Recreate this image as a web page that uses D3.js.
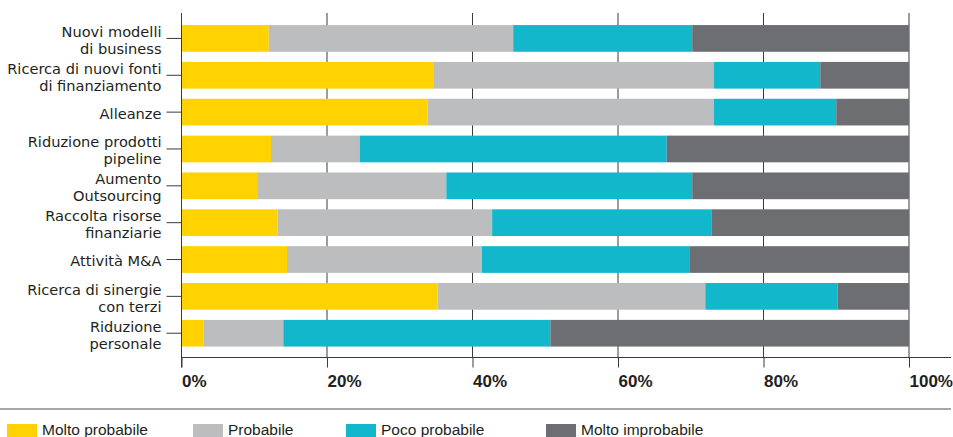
<!DOCTYPE html>
<html>
<head>
<meta charset="utf-8">
<script src="https://cdn.jsdelivr.net/npm/d3@7"></script>
<style>
  html, body { margin: 0; padding: 0; background: #fff; }
  svg { display: block; font-family: "Liberation Sans", Arial, sans-serif; }
</style>
</head>
<body>
<svg id="chart" width="953" height="437"></svg>
<script>
const categories = [
  "Nuovi modelli\ndi business",
  "Ricerca di nuovi fonti\ndi finanziamento",
  "Alleanze",
  "Riduzione prodotti\npipeline",
  "Aumento\nOutsourcing",
  "Raccolta risorse\nfinanziarie",
  "Attività M&A",
  "Ricerca di sinergie\ncon terzi",
  "Riduzione\npersonale"
];
const seriesNames = ["Molto probabile", "Probabile", "Poco probabile", "Molto improbabile"];
const moltoProbabile   = [12.0, 34.6, 33.8, 12.3, 10.4, 13.2, 14.5, 35.2, 3.0];
const probabile        = [33.6, 38.6, 39.4, 12.2, 26.0, 29.5, 26.8, 36.8, 11.0];
const pocoProbabile    = [24.6, 14.6, 16.8, 42.2, 33.8, 30.2, 28.5, 18.2, 36.7];
const moltoImprobabile = [29.8, 12.2, 10.0, 33.3, 29.8, 27.1, 30.2, 9.8, 49.3];
const tickValues = [0, 20, 40, 60, 80, 100];
const tickLabels = ["0%", "20%", "40%", "60%", "80%", "100%"];
const colors = ["#FFD200", "#BCBDBF", "#12B7CB", "#6D6E71"];

const seriesValues = [moltoProbabile, probabile, pocoProbabile, moltoImprobabile];
const rows = categories.map((c, i) => {
  const r = { cat: c };
  seriesNames.forEach((s, j) => r[s] = seriesValues[j][i]);
  return r;
});
const stacked = d3.stack().keys(seriesNames)(rows);

const svg = d3.select("#chart");
const x = d3.scaleLinear().domain([0, 100]).range([181.5, 909]);
const y = d3.scaleBand().domain(categories).range([20, 351.65]).paddingInner(0.2755).paddingOuter(0.1378);
const textColor = "#231F20";
const axisY = 357.5;

// gridlines
svg.append("g").selectAll("line").data(tickValues.slice(1)).join("line")
  .attr("x1", d => x(d)).attr("x2", d => x(d))
  .attr("y1", 13).attr("y2", axisY)
  .attr("stroke", "#3a3a3a").attr("stroke-width", 1);

// bars
svg.append("g").selectAll("g").data(stacked).join("g")
  .attr("fill", (d, i) => colors[i])
  .selectAll("rect").data(d => d).join("rect")
  .attr("x", d => x(d[0]))
  .attr("width", d => x(d[1]) - x(d[0]))
  .attr("y", d => y(d.data.cat))
  .attr("height", y.bandwidth());

// x axis
const xAxis = d3.axisBottom(x).tickValues(tickValues)
  .tickFormat((d, i) => tickLabels[i]).tickSizeInner(10).tickSizeOuter(0);
const gx = svg.append("g").attr("transform", `translate(0,${axisY})`).call(xAxis);
gx.select(".domain").remove();
gx.selectAll(".tick line").attr("stroke", "#3a3a3a");
gx.selectAll(".tick text")
  .attr("text-anchor", "start").attr("x", 0).attr("y", 0).attr("dy", null)
  .attr("transform", "translate(0,29)")
  .attr("fill", textColor)
  .style("font-size", "17px").style("font-weight", "bold")
  .style("font-family", "'Liberation Sans', Arial, sans-serif");
svg.append("line").attr("x1", x(0)).attr("x2", 951).attr("y1", axisY).attr("y2", axisY)
  .attr("stroke", "#3a3a3a").attr("stroke-width", 1);

// y axis
const yAxis = d3.axisLeft(y).tickSizeInner(15).tickSizeOuter(0).tickFormat("");
const gy = svg.append("g").attr("transform", `translate(${x(0)},0)`).call(yAxis);
gy.select(".domain").remove();
gy.selectAll(".tick line").attr("stroke", "#3a3a3a");
svg.append("line").attr("x1", x(0)).attr("x2", x(0)).attr("y1", 13).attr("y2", axisY + 10)
  .attr("stroke", "#3a3a3a").attr("stroke-width", 1);

// category labels
const lab = svg.append("g");
categories.forEach(c => {
  const lines = c.split("\n");
  const cy = y(c) + y.bandwidth() / 2;
  const t = lab.append("text")
    .attr("text-anchor", "end").attr("fill", textColor)
    .style("font-family", "'DejaVu Sans', sans-serif")
    .style("font-size", "14.6px");
  lines.forEach((ln, k) => {
    const base = lines.length === 1 ? cy + 6.5 : cy - 1.5 + k * 17;
    t.append("tspan").attr("x", 161.5).attr("y", base).text(ln);
  });
});

// separator
svg.append("line").attr("x1", 0).attr("x2", 951).attr("y1", 409).attr("y2", 409)
  .attr("stroke", "#8a8a8a").attr("stroke-width", 1.6);

// legend
const legendX = [7, 193, 346, 546];
const lg = svg.append("g").selectAll("g").data(seriesNames).join("g")
  .attr("transform", (d, i) => `translate(${legendX[i]},424)`);
lg.append("rect").attr("width", 30).attr("height", 13).attr("fill", (d, i) => colors[i]);
lg.append("text").attr("x", 35).attr("y", 10.7).attr("fill", textColor)
  .style("font-size", "15.5px").text(d => d);
</script>
</body>
</html>
